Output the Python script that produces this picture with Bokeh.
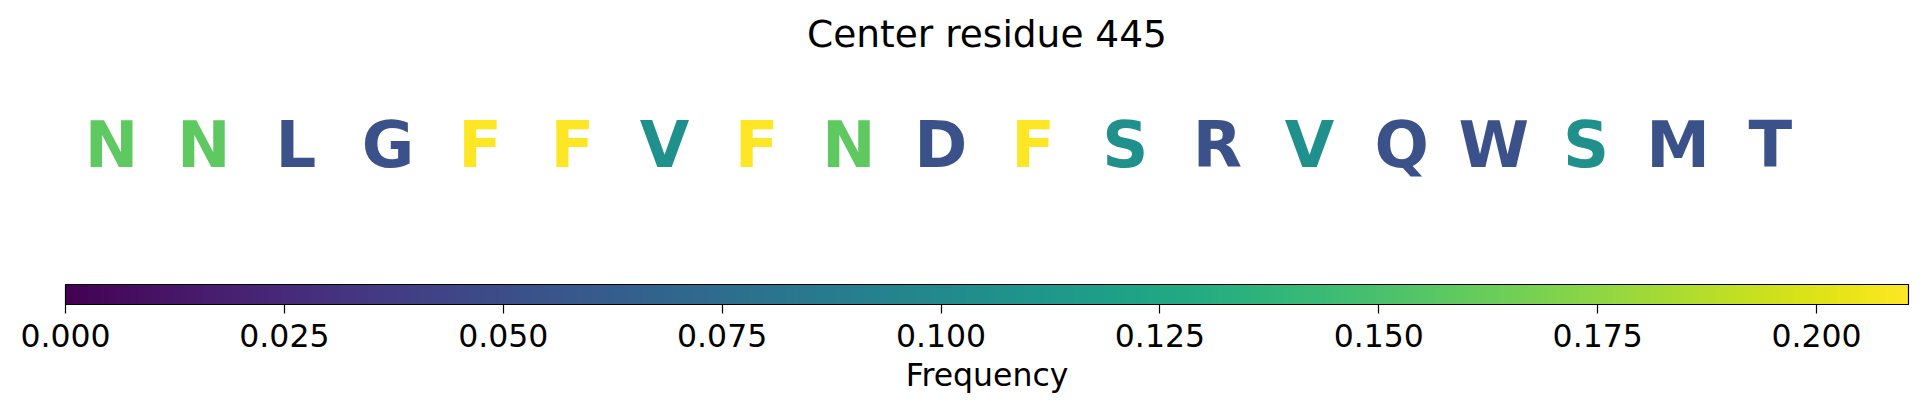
from bokeh.plotting import figure
from bokeh.models import (ColumnDataSource, LinearColorMapper, ColorBar, FixedTicker,
                          PrintfTickFormatter, Range1d, Title)
from bokeh.palettes import Viridis256
from bokeh.transform import transform
from bokeh.core.properties import value
from bokeh.embed import file_html
from bokeh.resources import INLINE

# ---- data ----
residues = ["N", "N", "L", "G", "F", "F", "V", "F", "N", "D",
            "F", "S", "R", "V", "Q", "W", "S", "M", "T"]
frequency = [0.1579, 0.1579, 0.0526, 0.0526, 0.2105, 0.2105, 0.1053, 0.2105, 0.1579, 0.0526,
             0.2105, 0.1053, 0.0526, 0.1053, 0.0526, 0.0526, 0.1053, 0.0526, 0.0526]
positions = list(range(len(residues)))
row = [0] * len(residues)
cbar_ticks = [0.0, 0.025, 0.05, 0.075, 0.1, 0.125, 0.15, 0.175, 0.2]
freq_max = 0.2105
title_text = "Center residue 445"
cbar_label = "Frequency"

FONT = "DejaVu Sans"

source = ColumnDataSource(dict(x=positions, y=row, letter=residues, freq=frequency))
mapper = LinearColorMapper(palette=Viridis256, low=0.0, high=freq_max)

p = figure(width=1927, height=416, output_backend="svg", toolbar_location=None,
           x_range=Range1d(-0.5, 19.5), y_range=Range1d(-0.625, 0.375),
           x_axis_location=None, y_axis_location=None,
           min_border_left=65, min_border_right=19, min_border_top=60, min_border_bottom=132)
p.outline_line_color = None
p.xgrid.visible = False
p.ygrid.visible = False
p.background_fill_color = "white"
p.border_fill_color = "white"

p.title.text = title_text
p.title.align = "center"
p.title.text_font = FONT
p.title.text_font_size = "37.5px"
p.title.text_font_style = "normal"
p.title.text_color = "black"

p.text(x="x", y="y", text="letter", source=source,
       text_color=transform("freq", mapper),
       text_font=value(FONT), text_font_style="bold", text_font_size="64px",
       text_align="center", text_baseline="alphabetic")

cb = ColorBar(color_mapper=mapper, orientation="horizontal", height=20,
              ticker=FixedTicker(ticks=cbar_ticks),
              formatter=PrintfTickFormatter(format="%.3f"),
              major_label_text_font=FONT, major_label_text_font_size="31.5px",
              major_label_text_color="black",
              major_tick_in=0, major_tick_out=9, major_tick_line_color="black",
              major_tick_line_width=1.2,
              minor_tick_line_color=None,
              bar_line_color="black", bar_line_width=1.2,
              border_line_color=None, background_fill_color=None,
              padding=0, margin=0, label_standoff=10)
p.add_layout(cb, "below")

p.add_layout(Title(text=cbar_label, align="center", text_font=FONT,
                   text_font_size="31.5px", text_font_style="normal",
                   text_color="black", standoff=11), "below")

open("out.html", "w").write(file_html(p, INLINE))
